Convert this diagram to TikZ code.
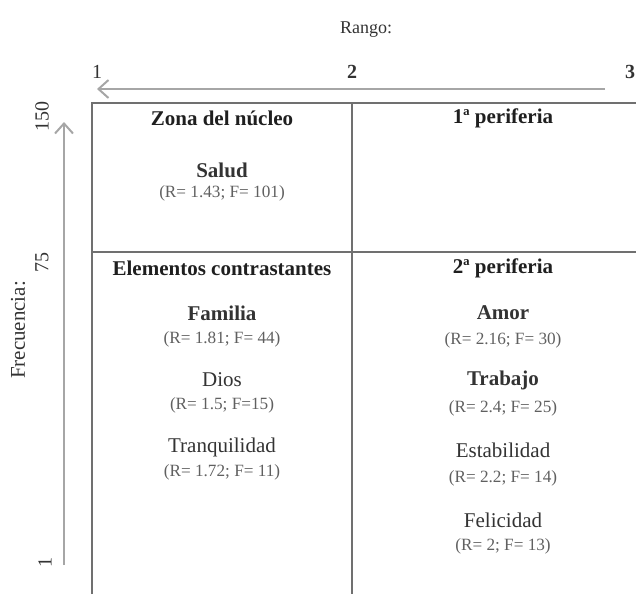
\documentclass[tikz,border=0pt]{standalone}
\usepackage{fontspec}
\setmainfont{Liberation Serif}
\usetikzlibrary{arrows.meta}
\definecolor{gridgray}{HTML}{707070}
\definecolor{axisgray}{HTML}{A6A6A6}
\definecolor{valgray}{HTML}{606060}
\tikzset{
	head/.style={font=\fontsize{10.5}{12}\selectfont\bfseries,text=black!88},
	word/.style={font=\fontsize{10.5}{12}\selectfont,text=black!80},
	bword/.style={word,font=\fontsize{10.5}{12}\selectfont\bfseries},
	val/.style={font=\fontsize{8.6}{10}\selectfont,text=valgray},
	tick/.style={font=\fontsize{10}{12}\selectfont,text=black!80},
}
\begin{document}
\begin{tikzpicture}[>={Straight Barb[length=5pt,width=9pt]},x=0.5pt,y=-0.5pt]
	\useasboundingbox (0,0) rectangle (636,594);
	\draw[gridgray,line width=1pt] (92,594)--(92,103)--(636,103);
	\draw[gridgray,line width=1pt] (92,252)--(636,252);
	\draw[gridgray,line width=1pt] (352,103)--(352,594);
	\node[word,font=\fontsize{9}{11}\selectfont] (rango) at (366,30) {Rango:};
	\node[tick] (r1) at (97,72) {1};
	\node[tick,font=\fontsize{10}{12}\selectfont\bfseries] (r2) at (352,72) {2};
	\node[tick,font=\fontsize{10}{12}\selectfont\bfseries] (r3) at (630,72) {3};
	\draw[->,axisgray,line width=1pt] (605,89)coordinate (Rb)--(97,89)coordinate (Ra);
	\node[word,rotate=90] (frec) at (18,330) {Frecuencia:};
	\node[tick,rotate=90] (f150) at (42,116) {150};
	\node[tick,rotate=90] (f75) at (42,262) {75};
	\node[tick,rotate=90] (f1) at (45,562) {1};
	\draw[->,axisgray,line width=1pt] (64,565)coordinate (Fb)--(64,122)coordinate (Fa);
	\node[head] (nucleo) at (222,118) {Zona del núcleo};
	\node[bword] (salud) at (222,170) {Salud};
	\node[val] (saludv) at (222,193) {(R= 1.43; F= 101)};
	\node[head] (peri1) at (503,118) {1ª periferia};
	\node[head] (contr) at (222,268) {Elementos contrastantes};
	\node[bword] (familia) at (222,313) {Familia};
	\node[val] (familiav) at (222,339) {(R= 1.81; F= 44)};
	\node[word] (dios) at (222,380) {Dios};
	\node[val] (diosv) at (222,405) {(R= 1.5; F=15)};
	\node[word] (tranq) at (222,447) {Tranquilidad};
	\node[val] (tranqv) at (222,472) {(R= 1.72; F= 11)};
	\node[head] (peri2) at (503,268) {2ª periferia};
	\node[bword] (amor) at (503,313) {Amor};
	\node[val] (amorv) at (503,340) {(R= 2.16; F= 30)};
	\node[bword] (trabajo) at (503,380) {Trabajo};
	\node[val] (trabajov) at (503,408) {(R= 2.4; F= 25)};
	\node[word] (estab) at (503,450) {Estabilidad};
	\node[val] (estabv) at (503,478) {(R= 2.2; F= 14)};
	\node[word] (felic) at (503,520) {Felicidad};
	\node[val] (felicv) at (503,546) {(R= 2; F= 13)};
\end{tikzpicture}
\end{document}
